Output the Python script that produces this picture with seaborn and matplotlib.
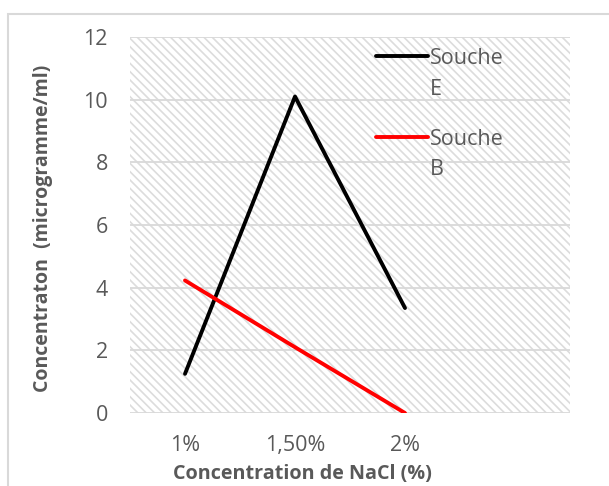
import matplotlib
matplotlib.use("Agg")
import matplotlib.pyplot as plt
from matplotlib.patches import Rectangle
from matplotlib.legend_handler import HandlerLine2D
import seaborn as sns
import pandas as pd

# NaCl concentration categories and measured concentrations (µg/ml)
nacl = ["1%", "1,50%", "2%"]
souche_e = [1.25, 10.1, 3.35]
souche_b = [4.23, 2.1, 0.0]
series_names = ["Souche\nE", "Souche\nB"]
series_colors = ["#000000", "#ff0000"]
y_ticks = [0, 2, 4, 6, 8, 10, 12]

df = pd.DataFrame({
    "nacl": nacl * 2,
    "value": souche_e + souche_b,
    "souche": [series_names[0]] * 3 + [series_names[1]] * 3,
})

sns.set_theme(style="white")
plt.rcParams["font.family"] = ["Open Sans", "DejaVu Sans"]
plt.rcParams["hatch.linewidth"] = 1.2
plt.rcParams["hatch.color"] = "#dcdcdc"

W, H = 609, 486
fig = plt.figure(figsize=(W / 100, H / 100), dpi=100)
ax = fig.add_axes([130 / W, 1 - 413 / H, 440 / W, 376 / H])

# hatched plot-area background
ax.add_patch(Rectangle((0, 0), 1, 1, transform=ax.transAxes, facecolor="white",
                       edgecolor="#dcdcdc", hatch="\\\\\\\\", lw=0, zorder=0))

sns.lineplot(data=df, x="nacl", y="value", hue="souche", palette=series_colors,
             sort=False, linewidth=2.8, ax=ax, legend=False, zorder=3)

ax.set_xlim(-0.5, 3.5)
ax.set_ylim(0, 12)
ax.set_yticks(y_ticks)
ax.set_xticks(range(len(nacl)))
ax.set_xticklabels(nacl)
ax.yaxis.grid(True, color="#d9d9d9", lw=1.3, zorder=1)
ax.set_axisbelow(True)
for s in ax.spines.values():
    s.set_visible(False)
ax.tick_params(axis="both", length=0, labelsize=15.5, labelcolor="#595959")
ax.tick_params(axis="y", pad=16)
ax.tick_params(axis="x", pad=16)

ax.set_xlabel("Concentration de NaCl (%)", fontsize=14.2, fontweight="bold",
              color="#595959")
ax.xaxis.set_label_coords((302 - 130) / 440, -(474 - 413) / 376)
ax.xaxis.label.set_va("center")
ax.set_ylabel("Concentraton  (microgramme/ml)", fontsize=14, fontweight="bold",
              color="#595959")
ax.yaxis.set_label_coords(-(130 - 43) / 440, (413 - 228) / 376)
ax.yaxis.label.set_va("center")


class TopAlignedLine(HandlerLine2D):
    """Line handle aligned with the first line of a two-line label."""
    def create_artists(self, legend, orig_handle, xdescent, ydescent, width,
                       height, fontsize, trans):
        arts = super().create_artists(legend, orig_handle, xdescent, ydescent,
                                      width, height, fontsize, trans)
        for a in arts:
            a.set_ydata([y + 0.85 * fontsize for y in a.get_ydata()])
        return arts


handles = [plt.Line2D([], [], color=c, lw=2.8) for c in series_colors]
leg = ax.legend(handles, series_names, loc="upper left",
                bbox_to_anchor=(376 / W, 1 - 48 / H), bbox_transform=fig.transFigure,
                frameon=False, fontsize=15.5, handlelength=2.4, handletextpad=0.1,
                labelspacing=1.33, borderpad=0, borderaxespad=0,
                handler_map={plt.Line2D: TopAlignedLine()})
for t in leg.get_texts():
    t.set_color("#595959")
    t.set_linespacing(1.62)

# chart frame
fig.add_artist(Rectangle((8 / W, -0.1), 1.2, 1.1 - 14 / H, transform=fig.transFigure,
                         fill=False, edgecolor="#d9d9d9", lw=1.5))

fig.savefig("out.png", dpi=100)
